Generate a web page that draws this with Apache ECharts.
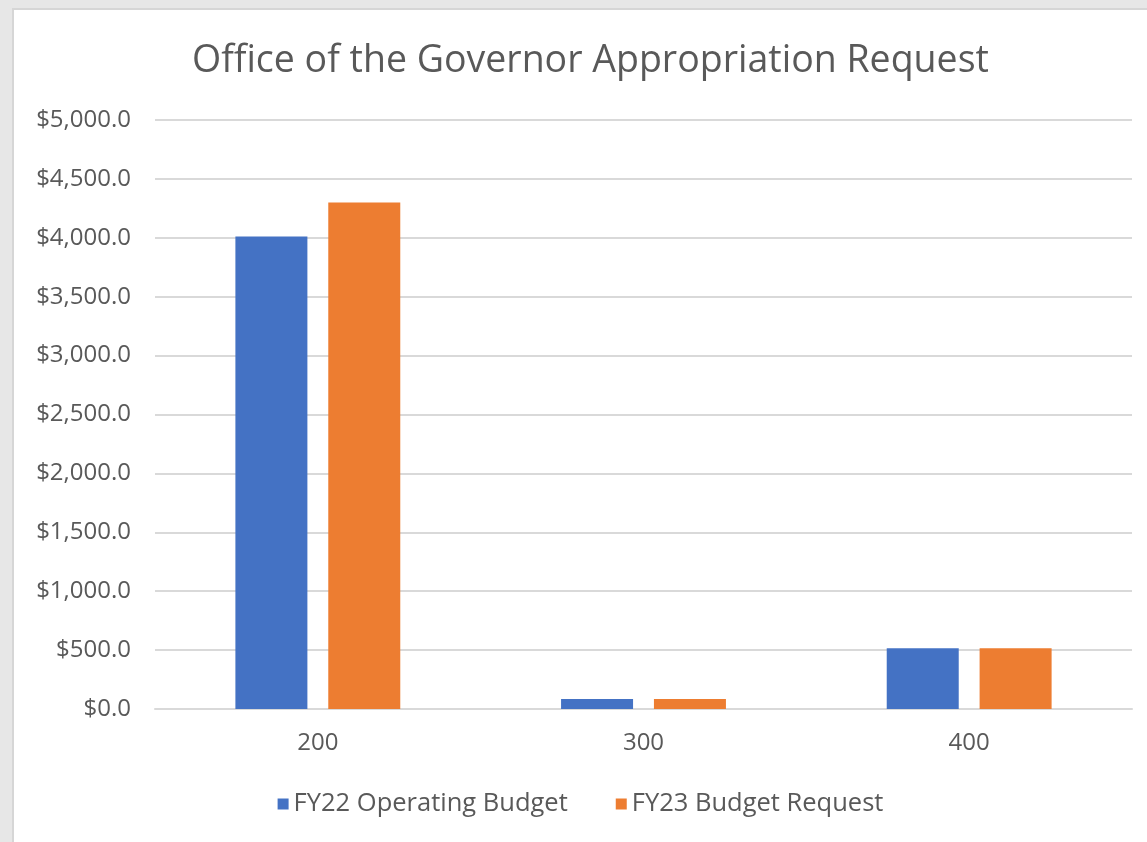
<!DOCTYPE html>
<html>
<head>
<meta charset="utf-8">
<script src="https://cdn.jsdelivr.net/npm/echarts@6/dist/echarts.min.js"></script>
<style>
  html, body { margin: 0; padding: 0; background: #e7e7e7; }
  #frame {
    position: absolute; left: 12px; top: 8px; width: 1135px; height: 834px;
    background: #fff; border-left: 2px solid #d6d6d6; border-top: 2px solid #d6d6d6;
  }
  #chart { width: 1133px; height: 832px; }
</style>
</head>
<body>
<div id="frame"><div id="chart"></div></div>
<script>
// categories and series
const categories = ['200', '300', '400'];
const fy22Operating = [4010, 85, 515];
const fy23Request = [4300, 85, 515];
const seriesNames = ['FY22 Operating Budget', 'FY23 Budget Request'];

const textColor = '#595959';
const fontFamily = 'Open Sans, Noto Sans, sans-serif';

const chart = echarts.init(document.getElementById('chart'));
chart.setOption({
    animation: false,
    title: {
        text: 'Office of the Governor Appropriation Request',
        left: 173,
        top: 27,
        textStyle: { color: textColor, fontFamily: fontFamily, fontWeight: 'normal', fontSize: 37.5 }
    },
    legend: {
        data: seriesNames,
        bottom: 20,
        left: 'center',
        itemWidth: 11,
        itemHeight: 11,
        itemGap: 48,
        icon: 'rect',
        textStyle: { color: textColor, fontFamily: fontFamily, fontSize: 25.5 }
    },
    grid: { left: 141, right: 15, top: 110, bottom: 133, containLabel: false },
    xAxis: {
        type: 'category',
        data: categories,
        axisTick: { show: false },
        axisLine: { lineStyle: { color: '#d9d9d9', width: 2 } },
        axisLabel: { color: textColor, fontFamily: fontFamily, fontSize: 24, margin: 22 }
    },
    yAxis: {
        type: 'value',
        min: 0,
        max: 5000,
        interval: 500,
        axisLine: { show: false },
        axisTick: { show: false },
        splitLine: { lineStyle: { color: '#d9d9d9', width: 2 } },
        axisLabel: {
            color: textColor, fontFamily: fontFamily, fontSize: 24, margin: 24,
            formatter: v => '$' + v.toLocaleString('en-US', { minimumFractionDigits: 1, maximumFractionDigits: 1 })
        }
    },
    series: [
        {
            name: seriesNames[0], type: 'bar', data: fy22Operating,
            itemStyle: { color: '#4472C4' },
            barWidth: 72, barGap: '29%'
        },
        {
            name: seriesNames[1], type: 'bar', data: fy23Request,
            itemStyle: { color: '#ED7D31' },
            barWidth: 72
        }
    ]
});
</script>
</body>
</html>
